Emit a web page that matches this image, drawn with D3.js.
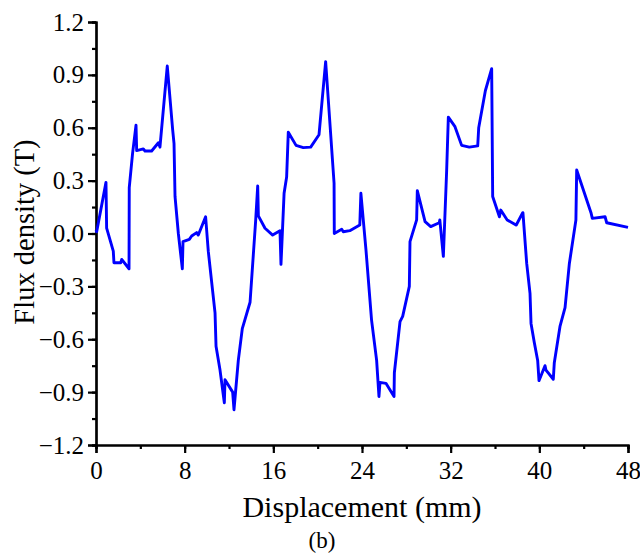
<!DOCTYPE html>
<html><head><meta charset="utf-8">
<script src="https://cdn.jsdelivr.net/npm/d3@7"></script>
<style>body{margin:0;background:#fff}</style>
</head><body>
<svg id="c" width="640" height="557"></svg>
<script>
const displacement = [0,0.06,0.9,0.96,1.56,1.62,2.23,2.32,2.98,3.0,3.3,3.61,3.67,4.27,4.42,5.02,5.63,5.77,6.43,6.92,7.04,7.13,7.43,7.79,7.85,8.42,8.63,9.08,9.23,9.89,10.13,10.74,10.83,11.19,11.58,11.64,12.33,12.45,12.84,13.2,13.9,14.41,14.59,14.65,15.25,15.94,16.6,16.69,16.97,17.2,17.35,18.05,18.7,19.37,20.12,20.72,21.48,21.5,22.17,22.31,22.9,23.8,23.9,24.36,24.86,25.32,25.53,25.62,26.16,26.89,26.92,27.43,27.67,28.27,28.33,28.93,28.99,29.69,30.2,30.97,31.02,31.34,31.64,31.79,32.39,32.99,33.68,34.44,34.53,35.13,35.7,35.79,36.4,36.52,37.1,37.9,37.92,38.5,38.52,38.86,39.16,39.25,39.55,39.85,39.97,40.51,40.6,41.26,41.35,41.87,42.32,42.71,43.3,43.37,44.66,44.78,45.93,46.08,48.0];
const fluxDensity = [0.02,0.01,0.29,0.03,-0.10,-0.166,-0.166,-0.147,-0.20,0.26,0.455,0.615,0.47,0.48,0.468,0.468,0.515,0.49,0.95,0.587,0.51,0.21,0.0,-0.20,-0.046,-0.033,-0.014,0.005,-0.009,0.095,-0.10,-0.45,-0.64,-0.775,-0.96,-0.83,-0.90,-1.0,-0.72,-0.54,-0.39,0.077,0.27,0.10,0.03,-0.009,0.016,-0.175,0.228,0.32,0.575,0.50,0.487,0.49,0.56,0.975,0.285,0.0,0.024,0.01,0.016,0.048,0.228,-0.094,-0.49,-0.72,-0.925,-0.845,-0.85,-0.925,-0.79,-0.50,-0.47,-0.30,-0.046,0.077,0.243,0.067,0.039,0.061,0.077,-0.13,0.36,0.66,0.606,0.50,0.49,0.497,0.60,0.81,0.935,0.21,0.095,0.133,0.077,0.048,0.048,0.118,0.118,-0.17,-0.34,-0.51,-0.62,-0.72,-0.835,-0.75,-0.775,-0.827,-0.733,-0.525,-0.42,-0.17,0.077,0.36,0.118,0.086,0.095,0.061,0.035,0.016];
const xTicks = [0,8,16,24,32,40,48];
const yTicks = [-1.2,-0.9,-0.6,-0.3,0.0,0.3,0.6,0.9,1.2];

const svg = d3.select("#c");
const m = {left:96, right:628, top:22, bottom:445};
const x = d3.scaleLinear().domain([0,48]).range([m.left,m.right]);
const y = d3.scaleLinear().domain([-1.2,1.2]).range([m.bottom,m.top]);
const font = "'Liberation Serif','Times New Roman',serif";

function style(g){
  g.select(".domain").attr("stroke-width",2.2).attr("stroke","#000");
  g.selectAll(".tick line").attr("stroke-width",2.2).attr("stroke","#000");
  g.selectAll("text").attr("font-family",font).attr("font-size",25).attr("fill","#000");
}
const gx = svg.append("g").attr("transform",`translate(0,${m.bottom})`)
  .call(d3.axisBottom(x).tickValues(d3.range(0,49,4)).tickSize(4).tickFormat(""));
style(gx);
const gx2 = svg.append("g").attr("transform",`translate(0,${m.bottom})`)
  .call(d3.axisBottom(x).tickValues(xTicks).tickSize(8).tickPadding(8).tickFormat(d=>d));
style(gx2);

const gy = svg.append("g").attr("transform",`translate(${m.left},0)`)
  .call(d3.axisLeft(y).tickValues(d3.range(-8,9).map(v=>v*0.15)).tickSize(4).tickFormat(""));
style(gy);
const gy2 = svg.append("g").attr("transform",`translate(${m.left},0)`)
  .call(d3.axisLeft(y).tickValues(yTicks).tickSize(8).tickPadding(4).tickFormat(d3.format(".1f")));
style(gy2);

const data = displacement.map((d,i)=>[d,fluxDensity[i]]);
svg.append("path").datum(data)
  .attr("fill","none").attr("stroke","#0000FF").attr("stroke-width",2.9)
  .attr("stroke-linejoin","round")
  .attr("d", d3.line().x(d=>x(d[0])).y(d=>y(d[1])));

svg.append("text").attr("x",362).attr("y",517).attr("text-anchor","middle")
  .attr("font-family",font).attr("font-size",30).text("Displacement (mm)");
svg.append("text").attr("transform","translate(34,232) rotate(-90)").attr("text-anchor","middle")
  .attr("font-family",font).attr("font-size",28.5).text("Flux density (T)");
svg.append("text").attr("x",322).attr("y",548).attr("text-anchor","middle")
  .attr("font-family",font).attr("font-size",23).text("(b)");
</script>
</body></html>
